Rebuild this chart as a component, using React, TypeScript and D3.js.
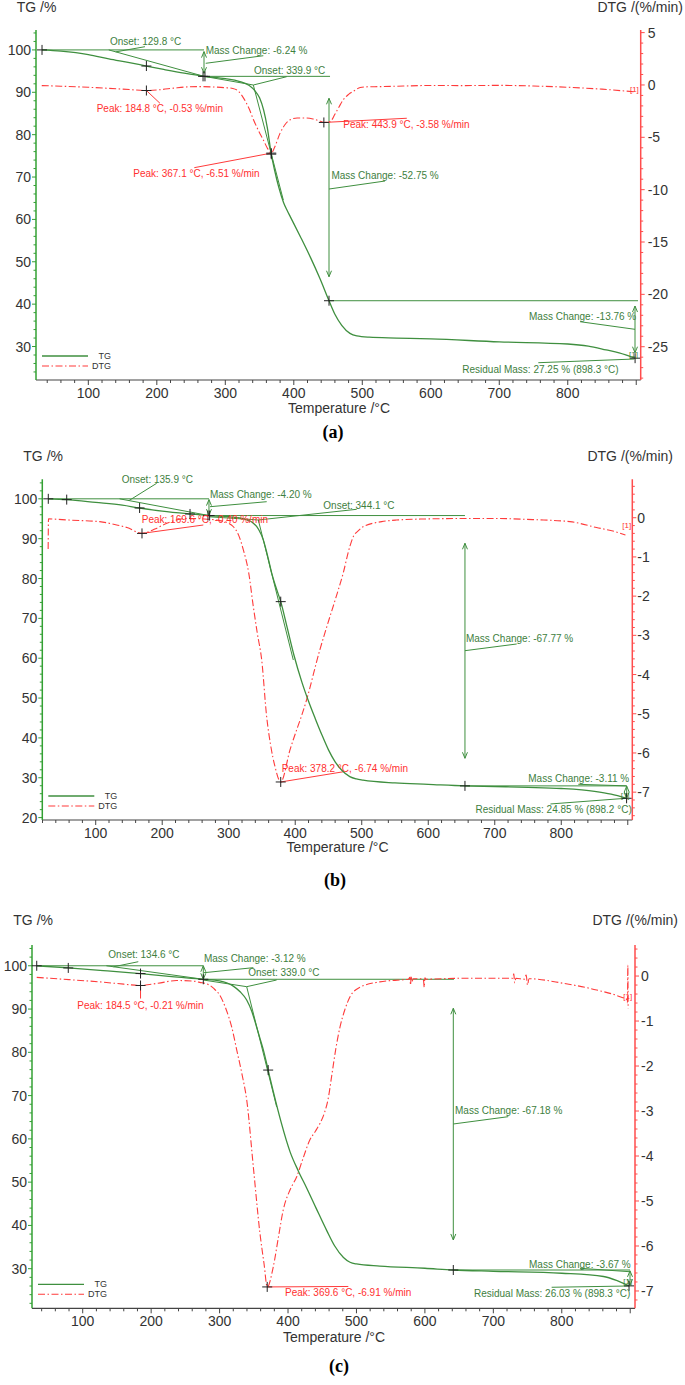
import React from "react";
import * as d3 from "d3";

type P = [number, number];

// ---------------- Panel (a) data ----------------
const TG_A: P[] = [[32.4,100],[60,99.7],[100,98.9],[130,97.9],[160,97.0],[184.8,96.2],[210,95.4],[240,94.5],[268.9,93.76],[300,93.2],[320,92.6],[335,91.6],[343,90.4],[350,88.7],[356,85.8],[361.5,81.5],[367.1,75.4],[372,71.6],[378,67.6],[385,64.0],[390,62.2],[395,60.6],[410,55.8],[425,50.8],[438,46.1],[451.4,40.81],[460,37.6],[470,35.0],[482,33.1],[492,32.5],[510,32.2],[550,32.0],[600,31.8],[700,31.1],[800,30.6],[830,30.1],[856,29.2],[875,28.5],[898.3,27.25]];
const DTG_A: P[] = [[32,-0.06],[60,-0.12],[100,-0.22],[130,-0.32],[160,-0.44],[184.8,-0.53],[205,-0.45],[225,-0.3],[245,-0.18],[263,-0.16],[285,-0.2],[300,-0.26],[311,-0.33],[320,-0.65],[328,-1.4],[335,-2.3],[341,-3.3],[348,-4.3],[355.5,-5.25],[362,-6.1],[367.1,-6.51],[372,-5.95],[380,-4.6],[387,-3.8],[394,-3.35],[405,-3.15],[416,-3.15],[428,-3.25],[436,-3.4],[443.9,-3.58],[453,-3.5],[460,-2.8],[466,-2.1],[472,-1.43],[480,-0.9],[487,-0.6],[497,-0.25],[510,-0.17],[526,-0.16],[560,-0.1],[600,-0.05],[650,-0.06],[700,-0.04],[750,-0.1],[800,-0.22],[850,-0.4],[898,-0.66]];

// ---------------- Panel (b) data ----------------
const TG_B: P[] = [[28.7,100],[56.4,99.8],[100,99.1],[140,98.4],[166,97.7],[200,96.9],[241.8,96.2],[270,95.8],[300,95.5],[320,95.1],[337,93.9],[345,92.3],[352,89.7],[358,86],[364.7,81.3],[371,77.8],[378.2,74.2],[388,67.6],[398,60.8],[410,54.0],[420,49.2],[430,44.9],[440,40.8],[450,37.0],[460,34.0],[470,31.9],[482,30.3],[492,29.7],[502,29.4],[550,28.7],[600,28.35],[655.2,27.96],[700,27.8],[750,27.6],[800,27.3],[850,26.6],[875,25.9],[898.2,24.85]];
const DTG_B: P[] = [[28.5,-0.8],[29,-0.03],[60,-0.06],[106,-0.1],[130,-0.18],[147,-0.25],[169.6,-0.4],[190,-0.28],[207,-0.14],[237,-0.02],[260,-0.03],[282,-0.06],[297,-0.12],[307,-0.23],[315,-0.45],[322,-0.82],[330,-1.4],[337,-2.27],[343,-2.95],[349.6,-3.63],[357,-5.07],[363,-5.8],[369.6,-6.35],[378.2,-6.74],[392,-5.93],[417,-4.65],[437,-3.37],[446,-2.86],[460,-2.1],[472,-1.42],[482,-0.74],[487.4,-0.48],[495,-0.33],[502,-0.23],[530,-0.1],[552,-0.06],[600,-0.03],[650,-0.02],[700,-0.02],[760,-0.05],[813,-0.1],[853,-0.25],[880,-0.35],[896.5,-0.44]];

// ---------------- Panel (c) data ----------------
const TG_C: P[] = [[32.8,100],[78.9,99.5],[130,98.9],[184.5,98.2],[230,97.5],[276.2,96.88],[300,96.5],[320,95.3],[330,94],[339.6,92.1],[347,89.5],[354,85.9],[359,83.2],[364,80.5],[371,75.9],[378.5,70.9],[390,63.8],[403,57.0],[415,52.6],[427.4,48.6],[441,44.0],[456.6,38.8],[468,35.3],[481,32.6],[490.6,31.5],[500,31.1],[534,30.6],[600,30.1],[641.5,29.7],[700,29.4],[800,28.95],[861,28.2],[880,27.3],[898.3,26.03]];
const DTG_C: P[] = [[32.8,-0.03],[80,-0.08],[125,-0.13],[160,-0.18],[184.5,-0.21],[210,-0.16],[237,-0.1],[260,-0.11],[271,-0.14],[285,-0.2],[291,-0.27],[300,-0.42],[310,-0.76],[318,-1.15],[325,-1.64],[333,-2.2],[339.7,-2.76],[349.3,-4.24],[359,-5.72],[365,-6.4],[369.6,-6.91],[378.5,-6.46],[386,-5.8],[393,-5.2],[403,-4.75],[412.7,-4.46],[422,-4.05],[432,-3.64],[440,-3.45],[446.8,-3.27],[453,-3.05],[459,-2.7],[464,-2.2],[470,-1.6],[476,-1.13],[483,-0.75],[490.6,-0.46],[505,-0.25],[534,-0.13],[570,-0.08],[576,-0.07],[578,-0.03],[579,-0.2],[580,0.0],[581,-0.12],[583,-0.06],[596,-0.06],[598,-0.1],[599,-0.25],[600,-0.04],[602,-0.07],[650,-0.05],[700,-0.05],[728,-0.05],[730,0.05],[731,-0.15],[733,-0.05],[745,-0.07],[748,0.02],[750,-0.2],[752,-0.06],[802,-0.16],[851,-0.31],[885,-0.46],[895,-0.53],[896,-0.6],[896.5,0.24],[897,-0.72]];

const X_TICKS = [100, 200, 300, 400, 500, 600, 700, 800];

// ---------------- Annotations (data units) ----------------
// TG segments: [t1, tg1, t2, tg2]
const A_TG_SEGS = [[32.4,100,268.9,100],[129.8,100,268.9,93.76],[140,99.54,182.7,100.76],[271.4,96.84,355.5,98.63],[268.9,93.76,452.9,93.76],[268.9,93.76,340.9,91.72],[340.9,91.72,384.7,64.58],[340.9,91.72,389.7,93.68],[451.4,67.17,533.2,69.06],[451.4,40.81,902.6,40.81],[817.9,35.86,898.2,34.06],[757,26.18,897.1,27.05]];
const A_ARROWS = [[268.9,99.6,94.5],[451.4,88.58,46.47],[898.2,39.56,28.54]];
const A_GREEN_LABELS: [string, number, number][] = [["Onset: 129.8 °C",131.6,101.94],["Mass Change: -6.24 %",271.4,99.81],["Onset: 339.9 °C",341.9,95.09],["Mass Change: -52.75 %",455,70.31],["Mass Change: -13.76 %",743.4,37.03],["Residual Mass: 27.25 % (898.3 °C)",646,24.62]];
const A_DTG_SEGS = [[184.8,-0.53,204.6,-1.75],[254.7,-7.9,367.1,-6.51],[443.9,-3.58,565,-3.18]];
const A_RED_LABELS: [string, number, number][] = [["Peak: 184.8 °C, -0.53 %/min",112.2,-2.23],["Peak: 367.1 °C, -6.51 %/min",165.7,-8.44],["Peak: 443.9 °C, -3.58 %/min",472.3,-3.82]];
const A_TG_CROSS: P[] = [[32.4,100],[184.8,96.2],[267.5,93.76],[270.3,93.76],[367.1,75.4],[451.4,40.81],[898.3,27.25]];
const A_DTG_CROSS: P[] = [[184.8,-0.53],[367.1,-6.51],[443.9,-3.58]];
const A_BRACKETS: P[] = [[889.4,28.23],[890.8,-0.48]];

const B_TG_SEGS = [[28.7,100,270.3,100],[135.9,100,270.3,95.8],[150,99.56,191.7,103.9],[271.8,98.02,357.1,99.28],[270.3,95.8,655.2,95.8],[270.3,95.5,344.5,94.69],[344.5,94.69,397.1,59.55],[344.5,94.69,492.4,97.37],[655.2,61.89,733,63.57],[655.2,27.96,898.4,27.96],[825.6,28.36,898.4,27.96],[783.7,23.42,897.3,24.85]];
const B_ARROWS = [[270.3,99.8,95.9],[655.2,88.84,34.89],[898.4,27.9,24.93]];
const B_GREEN_LABELS: [string, number, number][] = [["Onset: 135.9 °C",139.1,104.9],["Mass Change: -4.20 %",271.8,101.1],["Onset: 344.1 °C",442.2,98.45],["Mass Change: -67.77 %",656.7,65.0],["Mass Change: -3.11 %",750.4,29.69],["Residual Mass: 24.85 % (898.2 °C)",671,21.92]];
const B_DTG_SEGS = [[169.6,-0.4,261.8,-0.186],[378.2,-6.74,472.3,-6.48]];
const B_RED_LABELS: [string, number, number][] = [["Peak: 169.6 °C, -0.40 %/min",169.2,-0.058],["Peak: 378.2 °C, -6.74 %/min",379.6,-6.39]];
const B_TG_CROSS: P[] = [[28.7,100],[56.4,99.8],[166,97.7],[241.8,96.2],[268.8,95.8],[271.3,95.8],[378.2,74.2],[655.2,27.96],[898.2,24.85]];
const B_DTG_CROSS: P[] = [[169.6,-0.4],[378.2,-6.74]];
const B_BRACKETS: P[] = [[889.3,25.5],[891.8,-0.21]];

const C_TG_SEGS = [[32.8,100,276.2,100],[134.6,100,276.2,96.88],[145,99.76,181.2,100.94],[277.2,98.4,349.3,99.56],[276.2,96.88,642.5,96.88],[276.2,96.71,339.6,95.17],[339.6,95.17,383.4,67.4],[339.6,95.17,383.4,96.71],[641.5,63.44,721.8,65.13],[641.5,29.7,899.7,29.7],[826.6,30.1,899.7,29.3],[785.2,25.71,898.6,26.01]];
const C_ARROWS = [[276.2,100,96.88],[641.5,90.17,36.64],[899.7,29.5,26.2]];
const C_GREEN_LABELS: [string, number, number][] = [["Onset: 134.6 °C",137.4,102.49],["Mass Change: -3.12 %",277.2,101.73],["Onset: 339.0 °C",341.9,98.4],["Mass Change: -67.18 %",644,66.45],["Mass Change: -3.67 %",752.1,31.03],["Residual Mass: 26.03 % (898.3 °C)",671.7,24.32]];
const C_DTG_SEGS = [[184.5,-0.21,184.5,-0.5],[369.6,-6.91,488.1,-6.9]];
const C_RED_LABELS: [string, number, number][] = [["Peak: 184.5 °C, -0.21 %/min",92.1,-0.66],["Peak: 369.6 °C, -6.91 %/min",395.6,-7.03]];
const C_TG_CROSS: P[] = [[32.8,100],[78.9,99.5],[184.5,98.2],[276.2,96.88],[371,75.9],[641.5,29.7],[898.3,26.03]];
const C_DTG_CROSS: P[] = [[184.5,-0.21],[369.6,-6.91]];
const C_BRACKETS: P[] = [[889.9,27.0],[889.9,-0.46]];

const FONT = "'Liberation Sans', Arial, Helvetica, sans-serif";
const GREEN = "#3f8f3f";
const GREEN_AXIS = "#33a033";
const GREEN_TEXT = "#3e803e";
const RED = "#ff3b3b";
const RED_AXIS = "#ff4d4d";
const RED_TEXT = "#ff3030";
const DARK = "#333";

interface Layout {
  left: number; right: number; top: number; bottom: number;
  xDomain: [number, number]; tgDomain: [number, number]; dtgDomain: [number, number];
  tgTicks: number[]; dtgTicks: number[]; dtgMinorStep: number;
  tgTitleX: number; titleY: number; dtgTitleEnd: number;
  tempX: number; tempY: number; letter: string; letterX: number; letterY: number;
  rightGap: number;
}

interface Ann {
  tgSegs: number[][]; arrows: number[][]; greenLabels: [string, number, number][];
  dtgSegs: number[][]; redLabels: [string, number, number][];
  tgCross: P[]; dtgCross: P[]; brackets: P[];
}

const LAYOUT_A: Layout = {
  left: 36, right: 640.7, top: 30, bottom: 380,
  xDomain: [23.6, 906.5], tgDomain: [22.1, 104.7], dtgDomain: [-28.18, 5.25],
  tgTicks: [30, 40, 50, 60, 70, 80, 90, 100], dtgTicks: [5, 0, -5, -10, -15, -20, -25], dtgMinorStep: 1,
  tgTitleX: 16.7, titleY: 7, dtgTitleEnd: 683, tempX: 339, tempY: 408, letter: "(a)", letterX: 333, letterY: 432, rightGap: 7,
};
const LAYOUT_B: Layout = {
  left: 42.3, right: 632.3, top: 479.3, bottom: 820,
  xDomain: [19.7, 906.8], tgDomain: [19.4, 104.9], dtgDomain: [-7.71, 0.98],
  tgTicks: [20, 30, 40, 50, 60, 70, 80, 90, 100], dtgTicks: [0, -1, -2, -3, -4, -5, -6, -7], dtgMinorStep: 0.2,
  tgTitleX: 23.3, titleY: 455.7, dtgTitleEnd: 673, tempX: 337.5, tempY: 846.7, letter: "(b)", letterX: 335, letterY: 880, rightGap: 5,
};
const LAYOUT_C: Layout = {
  left: 32, right: 635, top: 945, bottom: 1308.3,
  xDomain: [25.9, 907], tgDomain: [20.85, 104.8], dtgDomain: [-7.385, 0.69],
  tgTicks: [30, 40, 50, 60, 70, 80, 90, 100], dtgTicks: [0, -1, -2, -3, -4, -5, -6, -7], dtgMinorStep: 0.2,
  tgTitleX: 13.3, titleY: 920, dtgTitleEnd: 678, tempX: 334, tempY: 1336.7, letter: "(c)", letterX: 339, letterY: 1366, rightGap: 6,
};

function stepRange(lo: number, hi: number, step: number): number[] {
  const a = Math.ceil(lo / step - 1e-9);
  const b = Math.floor(hi / step + 1e-9);
  return d3.range(a, b + 1).map((i) => +(i * step).toFixed(4));
}

function Panel({ L, tg, dtg, A }: { L: Layout; tg: P[]; dtg: P[]; A: Ann }) {
  const x = d3.scaleLinear().domain(L.xDomain).range([L.left, L.right]);
  const yT = d3.scaleLinear().domain(L.tgDomain).range([L.bottom, L.top]);
  const yD = d3.scaleLinear().domain(L.dtgDomain).range([L.bottom, L.top]);
  const tgLine = d3.line<P>().x((d) => x(d[0])).y((d) => yT(d[1])).curve(d3.curveMonotoneX);
  const dtgLine = d3.line<P>().x((d) => x(d[0])).y((d) => yD(d[1])).curve(d3.curveMonotoneX);

  const xMinor = stepRange(L.xDomain[0], L.xDomain[1], 20);
  const tgMinor = stepRange(L.tgDomain[0], L.tgDomain[1], 2);
  const dtgMinor = stepRange(L.dtgDomain[0], L.dtgDomain[1], L.dtgMinorStep);

  const cross = (cx: number, cy: number) => `M${cx - 5},${cy}H${cx + 5}M${cx},${cy - 5}V${cy + 5}`;

  return (
    <g>
      {/* titles */}
      <text x={L.tgTitleX} y={L.titleY} fontSize={14} fill={DARK} dominantBaseline="central" fontFamily={FONT}>TG /%</text>
      <text x={L.dtgTitleEnd} y={L.titleY} fontSize={14} fill={DARK} dominantBaseline="central" textAnchor="end" fontFamily={FONT}>DTG /(%/min)</text>
      <text x={L.tempX} y={L.tempY} fontSize={14} fill={DARK} dominantBaseline="central" textAnchor="middle" fontFamily={FONT}>Temperature /°C</text>
      <text x={L.letterX} y={L.letterY} fontSize={18} fontWeight="bold" fill="#000" dominantBaseline="central" textAnchor="middle" fontFamily="'Liberation Serif', 'Times New Roman', serif">{L.letter}</text>

      {/* bottom axis */}
      <line x1={L.left} x2={L.right} y1={L.bottom} y2={L.bottom} stroke="#444" strokeWidth={1.2} />
      {xMinor.map((t) => (
        <line key={"xm" + t} x1={x(t)} x2={x(t)} y1={L.bottom} y2={L.bottom + (t % 100 === 0 ? 5 : 3)} stroke="#444" strokeWidth={1} />
      ))}
      {X_TICKS.map((t) => (
        <text key={"xl" + t} x={x(t)} y={L.bottom + 12.5} fontSize={14} fill={DARK} textAnchor="middle" dominantBaseline="central" fontFamily={FONT}>{t}</text>
      ))}

      {/* left TG axis */}
      <line x1={L.left} x2={L.left} y1={L.top} y2={L.bottom} stroke={GREEN_AXIS} strokeWidth={1.5} />
      {tgMinor.map((v) => (
        <line key={"tm" + v} x1={L.left} x2={L.left - (v % 10 === 0 ? 4 : 2.5)} y1={yT(v)} y2={yT(v)} stroke={GREEN_AXIS} strokeWidth={1} />
      ))}
      {L.tgTicks.map((v) => (
        <text key={"tl" + v} x={L.left - 5} y={yT(v)} fontSize={14} fill={DARK} textAnchor="end" dominantBaseline="central" fontFamily={FONT}>{v}</text>
      ))}

      {/* right DTG axis */}
      <line x1={L.right} x2={L.right} y1={L.top} y2={L.bottom} stroke={RED_AXIS} strokeWidth={1.5} />
      {dtgMinor.map((v) => (
        <line key={"dm" + v} x1={L.right} x2={L.right + (L.dtgTicks.includes(v) ? 4 : 2.5)} y1={yD(v)} y2={yD(v)} stroke={RED_AXIS} strokeWidth={1} />
      ))}
      {L.dtgTicks.map((v) => (
        <text key={"dl" + v} x={L.right + L.rightGap} y={yD(v)} fontSize={14} fill={DARK} dominantBaseline="central" fontFamily={FONT}>{v}</text>
      ))}

      {/* annotation lines (green) */}
      {A.tgSegs.map((s, i) => (
        <line key={"gs" + i} x1={x(s[0])} y1={yT(s[1])} x2={x(s[2])} y2={yT(s[3])} stroke={GREEN} strokeWidth={1} />
      ))}
      {A.arrows.map((a, i) => {
        const ax = x(a[0]);
        const y1 = yT(a[1]);
        const y2 = yT(a[2]);
        return (
          <g key={"ar" + i} stroke={GREEN} strokeWidth={1} fill="none">
            <line x1={ax} x2={ax} y1={y1} y2={y2} />
            <path d={`M${ax - 2.5},${y1 + 6}L${ax},${y1}L${ax + 2.5},${y1 + 6}`} />
            <path d={`M${ax - 2.5},${y2 - 6}L${ax},${y2}L${ax + 2.5},${y2 - 6}`} />
          </g>
        );
      })}
      {/* red annotation lines */}
      {A.dtgSegs.map((s, i) => (
        <line key={"rs" + i} x1={x(s[0])} y1={yD(s[1])} x2={x(s[2])} y2={yD(s[3])} stroke={RED} strokeWidth={1} />
      ))}

      {/* curves */}
      <path d={dtgLine(dtg) || ""} fill="none" stroke={RED} strokeWidth={1.1} strokeDasharray="7,2.5,1.5,2.5" />
      <path d={tgLine(tg) || ""} fill="none" stroke={GREEN} strokeWidth={1.3} />

      {/* crosses */}
      {A.tgCross.map((c, i) => (
        <path key={"tc" + i} d={cross(x(c[0]), yT(c[1]))} stroke="#222" strokeWidth={1} fill="none" />
      ))}
      {A.dtgCross.map((c, i) => (
        <path key={"dc" + i} d={cross(x(c[0]), yD(c[1]))} stroke="#222" strokeWidth={1} fill="none" />
      ))}

      {/* [1] markers */}
      <text x={x(A.brackets[0][0])} y={yT(A.brackets[0][1])} fontSize={8} fill={GREEN_TEXT} dominantBaseline="central" fontFamily={FONT}>[1]</text>
      <text x={x(A.brackets[1][0])} y={yD(A.brackets[1][1])} fontSize={8} fill={RED_TEXT} dominantBaseline="central" fontFamily={FONT}>[1]</text>

      {/* labels */}
      {A.greenLabels.map(([txt, t, v], i) => (
        <text key={"gl" + i} x={x(t)} y={yT(v)} fontSize={10} fill={GREEN_TEXT} dominantBaseline="central" fontFamily={FONT}>{txt}</text>
      ))}
      {A.redLabels.map(([txt, t, v], i) => (
        <text key={"rl" + i} x={x(t)} y={yD(v)} fontSize={10} fill={RED_TEXT} dominantBaseline="central" fontFamily={FONT}>{txt}</text>
      ))}

      {/* legend */}
      <line x1={L.left + 6} x2={L.left + 52} y1={L.bottom - 24} y2={L.bottom - 24} stroke={GREEN} strokeWidth={1.3} />
      <text x={L.left + 75} y={L.bottom - 24} fontSize={9} fill={DARK} textAnchor="end" dominantBaseline="central" fontFamily={FONT}>TG</text>
      <line x1={L.left + 6} x2={L.left + 52} y1={L.bottom - 14} y2={L.bottom - 14} stroke={RED} strokeWidth={1.1} strokeDasharray="7,2.5,1.5,2.5" />
      <text x={L.left + 75} y={L.bottom - 14} fontSize={9} fill={DARK} textAnchor="end" dominantBaseline="central" fontFamily={FONT}>DTG</text>
    </g>
  );
}

const ANN_A: Ann = { tgSegs: A_TG_SEGS, arrows: A_ARROWS, greenLabels: A_GREEN_LABELS, dtgSegs: A_DTG_SEGS, redLabels: A_RED_LABELS, tgCross: A_TG_CROSS, dtgCross: A_DTG_CROSS, brackets: A_BRACKETS };
const ANN_B: Ann = { tgSegs: B_TG_SEGS, arrows: B_ARROWS, greenLabels: B_GREEN_LABELS, dtgSegs: B_DTG_SEGS, redLabels: B_RED_LABELS, tgCross: B_TG_CROSS, dtgCross: B_DTG_CROSS, brackets: B_BRACKETS };
const ANN_C: Ann = { tgSegs: C_TG_SEGS, arrows: C_ARROWS, greenLabels: C_GREEN_LABELS, dtgSegs: C_DTG_SEGS, redLabels: C_RED_LABELS, tgCross: C_TG_CROSS, dtgCross: C_DTG_CROSS, brackets: C_BRACKETS };

export default function App() {
  return (
    <svg width={685} height={1385} viewBox="0 0 685 1385" style={{ position: "absolute", left: 0, top: 0, background: "#fff" }}>
      <rect x={0} y={0} width={685} height={1385} fill="#fff" />
      <Panel L={LAYOUT_A} tg={TG_A} dtg={DTG_A} A={ANN_A} />
      <Panel L={LAYOUT_B} tg={TG_B} dtg={DTG_B} A={ANN_B} />
      <Panel L={LAYOUT_C} tg={TG_C} dtg={DTG_C} A={ANN_C} />
    </svg>
  );
}
